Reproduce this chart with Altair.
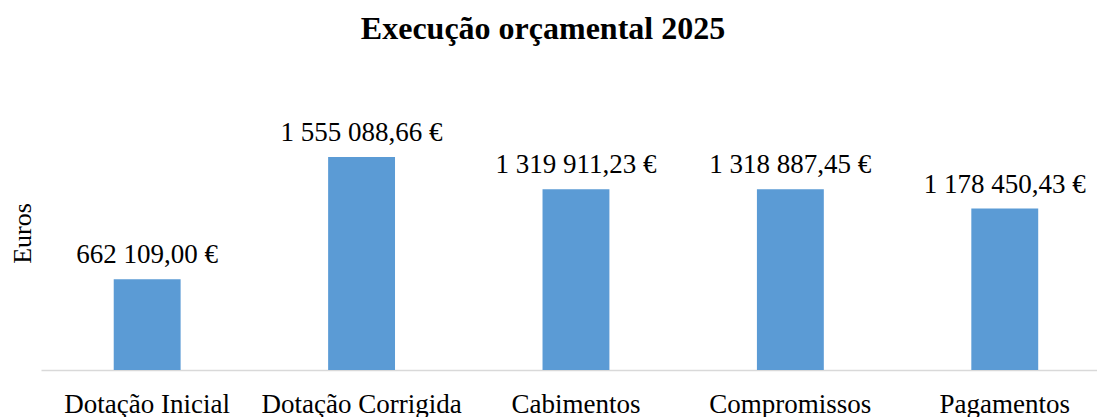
import altair as alt
import pandas as pd

categories = ["Dotação Inicial", "Dotação Corrigida", "Cabimentos", "Compromissos", "Pagamentos"]
values = [662109.00, 1555088.66, 1319911.23, 1318887.45, 1178450.43]
labels = ["662 109,00 €", "1 555 088,66 €", "1 319 911,23 €", "1 318 887,45 €", "1 178 450,43 €"]

df = pd.DataFrame({"cat": categories, "val": values, "lab": labels})

FONT = "Liberation Serif"

x = alt.X("cat:N", sort=categories, title=None,
          scale=alt.Scale(paddingInner=0.688, paddingOuter=0.3067, align=0.553),
          axis=alt.Axis(labelAngle=0, ticks=False, domainColor="#d9d9d9", domainWidth=1.5,
                        labelFont=FONT, labelFontSize=27, labelColor="#000000",
                        labelPadding=21, labelOverlap=False, labelLimit=400))
y = alt.Y("val:Q", title="Euros", scale=alt.Scale(domain=[0, 2000000]),
          axis=alt.Axis(labels=False, ticks=False, domain=False, grid=False,
                        titleFont=FONT, titleFontSize=26, titleFontWeight="normal",
                        titleColor="#000000", titlePadding=6))

bars = alt.Chart(df).mark_bar(color="#5B9BD5").encode(x=x, y=y)
text = alt.Chart(df).mark_text(font=FONT, fontSize=27, color="#000000",
                               baseline="alphabetic", dy=-16).encode(
    x=alt.X("cat:N", sort=categories), y="val:Q", text="lab:N")

chart = (bars + text).properties(
    width=1056, height=274,
    padding={"left": 1, "top": 5, "right": 0, "bottom": 0},
    title=alt.TitleParams("Execução orçamental 2025", font=FONT, fontSize=32,
                          fontWeight="bold", color="#000000", offset=50, dx=-26),
).configure_view(stroke=None)

chart.save("out.html", embed_options={"renderer": "svg", "actions": False})
